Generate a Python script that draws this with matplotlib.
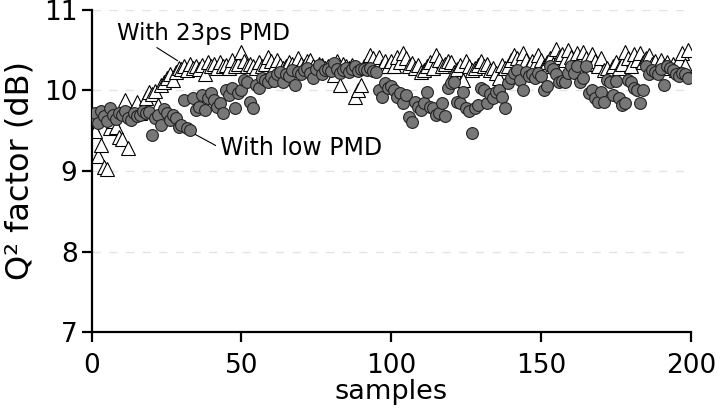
import numpy as np
import matplotlib
matplotlib.use("Agg")
import matplotlib.pyplot as plt

# Q^2 factor per sample (dB)
samples = np.arange(0, 200)

q_low_pmd = [
    9.66, 9.72, 9.60, 9.75, 9.68, 9.62, 9.78, 9.70, 9.64, 9.72,
    9.70, 9.74, 9.66, 9.63, 9.72, 9.68, 9.70, 9.74, 9.72, 9.73,
    9.45, 9.66, 9.70, 9.57, 9.77, 9.72, 9.63, 9.70, 9.66, 9.55,
    9.57, 9.88, 9.53, 9.51, 9.91, 9.76, 9.80, 9.94, 9.76, 9.91,
    9.97, 9.88, 9.80, 9.85, 9.72, 10.00, 9.94, 10.03, 9.78, 9.97,
    10.00, 10.13, 10.10, 9.86, 9.78, 10.07, 10.03, 10.15, 10.13, 10.10,
    10.17, 10.12, 10.20, 10.23, 10.10, 10.21, 10.18, 10.25, 10.07, 10.23,
    10.20, 10.25, 10.28, 10.22, 10.15, 10.26, 10.32, 10.20, 10.25, 10.27,
    10.24, 10.34, 10.27, 10.22, 10.25, 10.28, 10.23, 10.26, 10.30, 10.24,
    10.26, 10.27, 10.25, 10.28, 10.24, 10.23, 10.00, 9.92, 10.09, 10.03,
    10.05, 10.00, 9.92, 9.97, 9.84, 9.94, 9.67, 9.61, 9.86, 9.80,
    9.76, 9.84, 9.98, 9.80, 9.78, 9.70, 9.72, 9.84, 9.68, 10.03,
    10.09, 10.11, 9.86, 9.84, 9.98, 9.78, 9.74, 9.47, 9.78, 9.82,
    10.03, 10.00, 9.84, 9.95, 9.90, 9.98, 10.00, 9.92, 9.78, 10.09,
    10.15, 10.22, 10.25, 10.13, 10.00, 10.23, 10.18, 10.20, 10.15, 10.22,
    10.18, 10.00, 10.05, 10.30, 10.27, 10.20, 10.10, 10.12, 10.10, 10.22,
    10.30, 10.22, 10.30, 10.10, 10.15, 10.30, 9.97, 10.00, 9.90, 9.86,
    9.98, 9.86, 10.13, 10.10, 9.94, 10.12, 9.90, 9.82, 9.84, 10.13,
    10.10, 10.03, 10.00, 9.84, 10.00, 10.30, 10.20, 10.25, 10.23, 10.20,
    10.27, 10.07, 10.30, 10.28, 10.25, 10.20, 10.18, 10.22, 10.20, 10.15,
]

q_23ps_pmd = [
    9.57, 9.50, 9.18, 9.32, 9.05, 9.03, 9.53, 9.62, 9.55, 9.42,
    9.40, 9.88, 9.28, 9.70, 9.75, 9.86, 9.72, 9.80, 9.90, 9.98,
    9.95, 9.99, 9.82, 10.07, 10.10, 10.16, 10.20, 10.13, 10.23, 10.28,
    10.27, 10.30, 10.25, 10.33, 10.28, 10.30, 10.27, 10.32, 10.21, 10.35,
    10.30, 10.33, 10.28, 10.35, 10.30, 10.32, 10.28, 10.38, 10.30, 10.33,
    10.48, 10.36, 10.30, 10.33, 10.30, 10.28, 10.35, 10.30, 10.33, 10.42,
    10.36, 10.30, 10.38, 10.32, 10.28, 10.30, 10.35, 10.33, 10.28, 10.40,
    10.33, 10.30, 10.36, 10.38, 10.30, 10.27, 10.33, 10.32, 10.28, 10.30,
    10.30, 10.19, 10.36, 10.07, 10.33, 10.30, 10.28, 10.32, 9.92, 10.00,
    10.07, 10.30, 10.35, 10.44, 10.40, 10.33, 10.42, 10.30, 10.36, 10.30,
    10.36, 10.30, 10.42, 10.35, 10.46, 10.40, 10.30, 10.34, 10.28, 10.32,
    10.23, 10.25, 10.30, 10.35, 10.28, 10.44, 10.38, 10.30, 10.33, 10.36,
    10.35, 10.23, 10.27, 10.32, 10.13, 10.36, 10.30, 10.25, 10.28, 10.32,
    10.36, 10.30, 10.33, 10.25, 10.28, 10.22, 10.15, 10.32, 10.28, 10.30,
    10.38, 10.44, 10.40, 10.35, 10.46, 10.38, 10.30, 10.36, 10.33, 10.44,
    10.38, 10.30, 10.35, 10.40, 10.33, 10.52, 10.42, 10.45, 10.38, 10.50,
    10.42, 10.35, 10.46, 10.38, 10.48, 10.40, 10.33, 10.45, 10.36, 10.30,
    10.40, 10.25, 10.28, 10.22, 10.30, 10.35, 10.28, 10.33, 10.48, 10.40,
    10.30, 10.45, 10.38, 10.47, 10.35, 10.40, 10.44, 10.33, 10.36, 10.30,
    10.38, 10.30, 10.35, 10.28, 10.33, 10.25, 10.38, 10.46, 10.32, 10.50,
]

x_ticks = [0, 50, 100, 150, 200]
y_ticks = [7, 8, 9, 10, 11]

plt.rcParams["font.family"] = ["DejaVu Sans"]

fig = plt.figure(figsize=(7.24, 4.12), dpi=100)
ax = fig.add_axes([0.1264, 0.194, 0.8286, 0.782])

# faint dashed reference lines
for yv in y_ticks[1:]:
    ax.axhline(yv, color="#e4e4e4", lw=1.0, ls=(0, (6, 6)), zorder=0)

ax.plot(samples, q_23ps_pmd, ls="none", marker="^", ms=9.5,
        mfc="white", mec="black", mew=0.8, zorder=2)
ax.plot(samples, q_low_pmd, ls="none", marker="o", ms=8.5,
        mfc="#777777", mec="#222222", mew=0.8, zorder=3)

ax.set_xlim(0, 200)
ax.set_ylim(7, 11)
ax.set_xticks(x_ticks)
ax.set_yticks(y_ticks)

for side in ("top", "right"):
    ax.spines[side].set_visible(False)
for side in ("left", "bottom"):
    ax.spines[side].set_linewidth(1.6)
ax.tick_params(direction="out", length=7, width=1.6, labelsize=19)
ax.tick_params(axis="x", pad=8)
ax.tick_params(axis="y", pad=3)

ax.set_xlabel("samples", fontsize=19.5, labelpad=0)
ax.set_ylabel("Q² factor (dB)", fontsize=23, labelpad=6)

ax.annotate("", xy=(29.5, 10.35), xytext=(21.0, 10.55),
            arrowprops=dict(arrowstyle="-", lw=0.8, color="black"))
ax.text(8.5, 10.71, "With 23ps PMD", fontsize=16.5, va="center", ha="left")

ax.annotate("", xy=(33.8, 9.47), xytext=(42.2, 9.30),
            arrowprops=dict(arrowstyle="-", lw=0.8, color="black"))
ax.text(42.8, 9.29, "With low PMD", fontsize=17, va="center", ha="left")

fig.savefig("out.png", dpi=100)
